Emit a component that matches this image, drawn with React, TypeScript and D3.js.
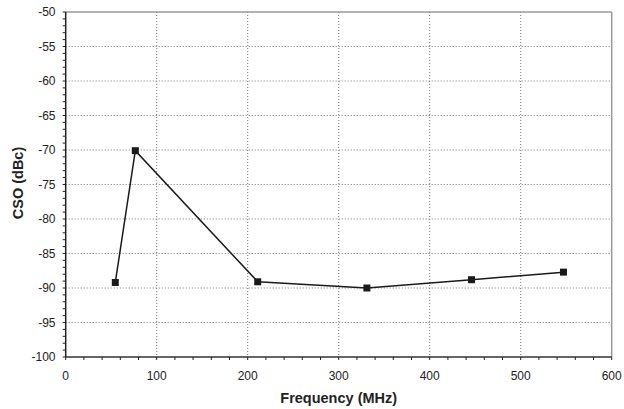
import React from "react";
import * as d3 from "d3";

const freqs = [54.5, 76.5, 211, 331, 446, 547];
const cso = [-89.2, -70.1, -89.1, -90.0, -88.8, -87.7];
const xTicks = [0, 100, 200, 300, 400, 500, 600];
const yTicks = [-50, -55, -60, -65, -70, -75, -80, -85, -90, -95, -100];

const W = 624, H = 409;
const M = { left: 65.7, right: 611.7, top: 12, bottom: 357 };

export default function App() {
  const x = d3.scaleLinear().domain([0, 600]).range([M.left, M.right]);
  const y = d3.scaleLinear().domain([-100, -50]).range([M.bottom, M.top]);
  const pts = freqs.map((f, i) => [f, cso[i]] as [number, number]);
  const line = d3.line<[number, number]>().x(d => x(d[0])).y(d => y(d[1]));
  const xMinor = d3.range(0, 601, 20);
  const yMinor = d3.range(-100, -49, 1);
  const font = "Liberation Sans, Arial, Helvetica, sans-serif";
  return (
    <svg width={W} height={H} style={{ position: "absolute", left: 0, top: 0 }} fontFamily={font}>
      <rect x={0} y={0} width={W} height={H} fill="#fff" />
      {/* grid */}
      {xTicks.slice(1, -1).map(t => (
        <line key={"gx" + t} x1={x(t)} x2={x(t)} y1={M.top} y2={M.bottom} stroke="#777" strokeWidth={1} strokeDasharray="1,2" />
      ))}
      {yTicks.slice(1, -1).map(t => (
        <line key={"gy" + t} x1={M.left} x2={M.right} y1={y(t)} y2={y(t)} stroke="#777" strokeWidth={1} strokeDasharray="1,2" />
      ))}
      {/* top & right border */}
      <line x1={M.left} x2={M.right} y1={M.top} y2={M.top} stroke="#999" strokeWidth={1.5} />
      <line x1={M.right} x2={M.right} y1={M.top} y2={M.bottom} stroke="#999" strokeWidth={1.5} />
      {/* axes */}
      <line x1={M.left} x2={M.left} y1={M.top} y2={M.bottom} stroke="#222" strokeWidth={1.5} />
      <line x1={M.left} x2={M.right} y1={M.bottom} y2={M.bottom} stroke="#333" strokeWidth={1.5} />
      {xMinor.map(t => (
        <line key={"xt" + t} x1={x(t)} x2={x(t)} y1={M.bottom} y2={M.bottom + 3} stroke="#222" strokeWidth={1} />
      ))}
      {yMinor.map(t => (
        <line key={"yt" + t} x1={M.left - 3} x2={M.left} y1={y(t)} y2={y(t)} stroke="#222" strokeWidth={1} />
      ))}
      {xTicks.map(t => (
        <text key={"xl" + t} x={x(t)} y={380} textAnchor="middle" fontSize={12} fill="#222">{t}</text>
      ))}
      {yTicks.map(t => (
        <text key={"yl" + t} x={55.5} y={y(t) + 4.3} textAnchor="end" fontSize={12} fill="#222">{t}</text>
      ))}
      <text x={(M.left + M.right) / 2} y={403} textAnchor="middle" fontSize={14.5} fontWeight="bold" fill="#222">Frequency (MHz)</text>
      <text transform={`translate(22.5,${(M.top + M.bottom) / 2 - 1.5}) rotate(-90)`} textAnchor="middle" fontSize={14.5} fontWeight="bold" fill="#222">CSO (dBc)</text>
      {/* series */}
      <path d={line(pts) || ""} fill="none" stroke="#1a1a1a" strokeWidth={1.5} />
      {pts.map((p, i) => (
        <rect key={"m" + i} x={x(p[0]) - 3.5} y={y(p[1]) - 3.5} width={7} height={7} fill="#1a1a1a" />
      ))}
    </svg>
  );
}
